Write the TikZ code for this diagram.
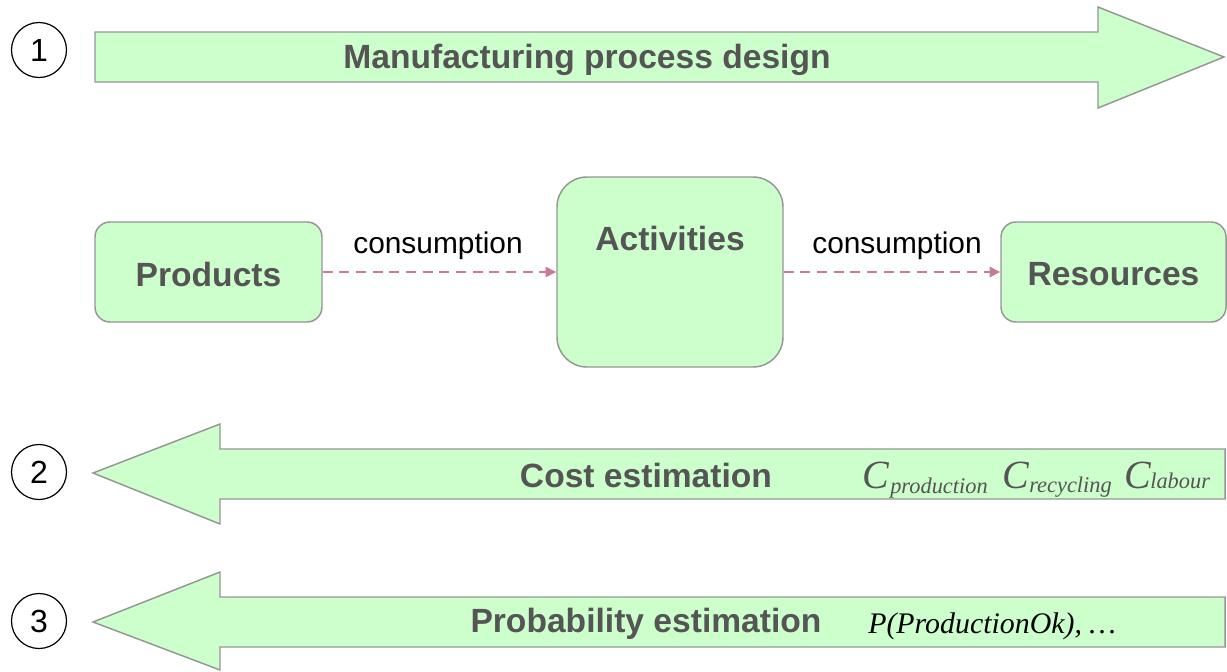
\documentclass[tikz,border=0pt]{standalone}
\usepackage{fontspec}
\setmainfont{Liberation Sans}
\newfontfamily\timesf{Liberation Serif}
\usetikzlibrary{arrows.meta}
\definecolor{boxfill}{RGB}{204,255,204}
\definecolor{boxline}{RGB}{150,150,150}
\definecolor{txtgrey}{RGB}{85,85,85}
\definecolor{dashcol}{RGB}{200,122,150}
\tikzset{
  bigarrow/.style={fill=boxfill, draw=boxline, line width=1.1pt, line join=miter},
  boxsty/.style={draw=boxline, fill=boxfill, line width=1.1pt, inner sep=0pt},
  boldlbl/.style={font=\fontsize{25.2}{28}\selectfont\bfseries, text=txtgrey, inner sep=0pt},
  numcirc/.style={circle, draw=black, line width=0.9pt, minimum size=41.25pt, inner sep=0pt, font=\fontsize{24}{28}\selectfont},
  conslbl/.style={font=\fontsize{22.4}{26}\selectfont, inner sep=0pt, anchor=base},
  consarrow/.style={draw=dashcol, line width=2.1pt, dash pattern=on 7.5pt off 5pt, -{Triangle[length=8pt,width=7.5pt]}},
  mathC/.style={font=\fontsize{30}{34}\selectfont\timesf\itshape, text=txtgrey, inner sep=0pt, anchor=base west},
  mathsub/.style={font=\fontsize{16.8}{20}\selectfont\timesf\itshape, text=txtgrey, inner sep=0pt, anchor=base west},
  probtxt/.style={font=\fontsize{22.4}{26}\selectfont\timesf\itshape, text=black, inner sep=0pt, anchor=base west}
}
\begin{document}
\begin{tikzpicture}[x=0.75pt,y=-0.75pt]
\useasboundingbox (0,0) rectangle (1227,671);
% arrow 1
\draw[bigarrow] (95,32) -- (1098,32) -- (1098,7) -- (1224,57) -- (1098,108) -- (1098,82) -- (95,82) -- cycle;
\node[boldlbl] (t1) at (587,60) {Manufacturing process design};
\node[numcirc] (c1) at (39,50) {1};
% arrow 2
\draw[bigarrow] (1225,449) -- (220,449) -- (220,424) -- (93,473) -- (220,524) -- (220,499) -- (1225,499) -- cycle;
\node[boldlbl] (t2) at (646,475) {Cost estimation};
\node[numcirc] (c2) at (39,472) {2};
\node[mathC] (cp) at (862,488) {C};
\node[mathsub] (sp) at (890,493) {production};
\node[mathC] (cr) at (1002,488) {C};
\node[mathsub] (sr) at (1029,492) {recycling};
\node[mathC] (cl) at (1124,488) {C};
\node[mathsub] (sl) at (1150,488) {labour};
% arrow 3
\draw[bigarrow] (1225,597) -- (220,597) -- (220,572) -- (93,622) -- (220,670) -- (220,647) -- (1225,647) -- cycle;
\node[boldlbl] (t3) at (646,624) {Probability estimation};
\node[numcirc] (c3) at (39,621) {3};
\node[probtxt] (pt) at (868,633) {P(ProductionOk), \ldots};
% boxes
\node[boxsty, rounded corners=11.25pt, minimum width=170.25pt, minimum height=75pt] (prod) at (208.5,272) {};
\node[boldlbl] (prodl) at (208.5,274) {Products};
\node[boxsty, rounded corners=22.5pt, minimum width=169.5pt, minimum height=142.5pt] (act) at (670,272) {};
\node[boldlbl] (actl) at (670,238) {Activities};
\node[boxsty, rounded corners=11.25pt, minimum width=168.75pt, minimum height=75pt] (res) at (1113.5,272) {};
\node[boldlbl] (resl) at (1113.5,274) {Resources};
% connectors
\draw[consarrow] (prod.east) -- (act.west);
\draw[consarrow] (act.east) -- (res.west);
\node[conslbl] (l1) at (438,253) {consumption};
\node[conslbl] (l2) at (897,253) {consumption};
\end{tikzpicture}
\end{document}
